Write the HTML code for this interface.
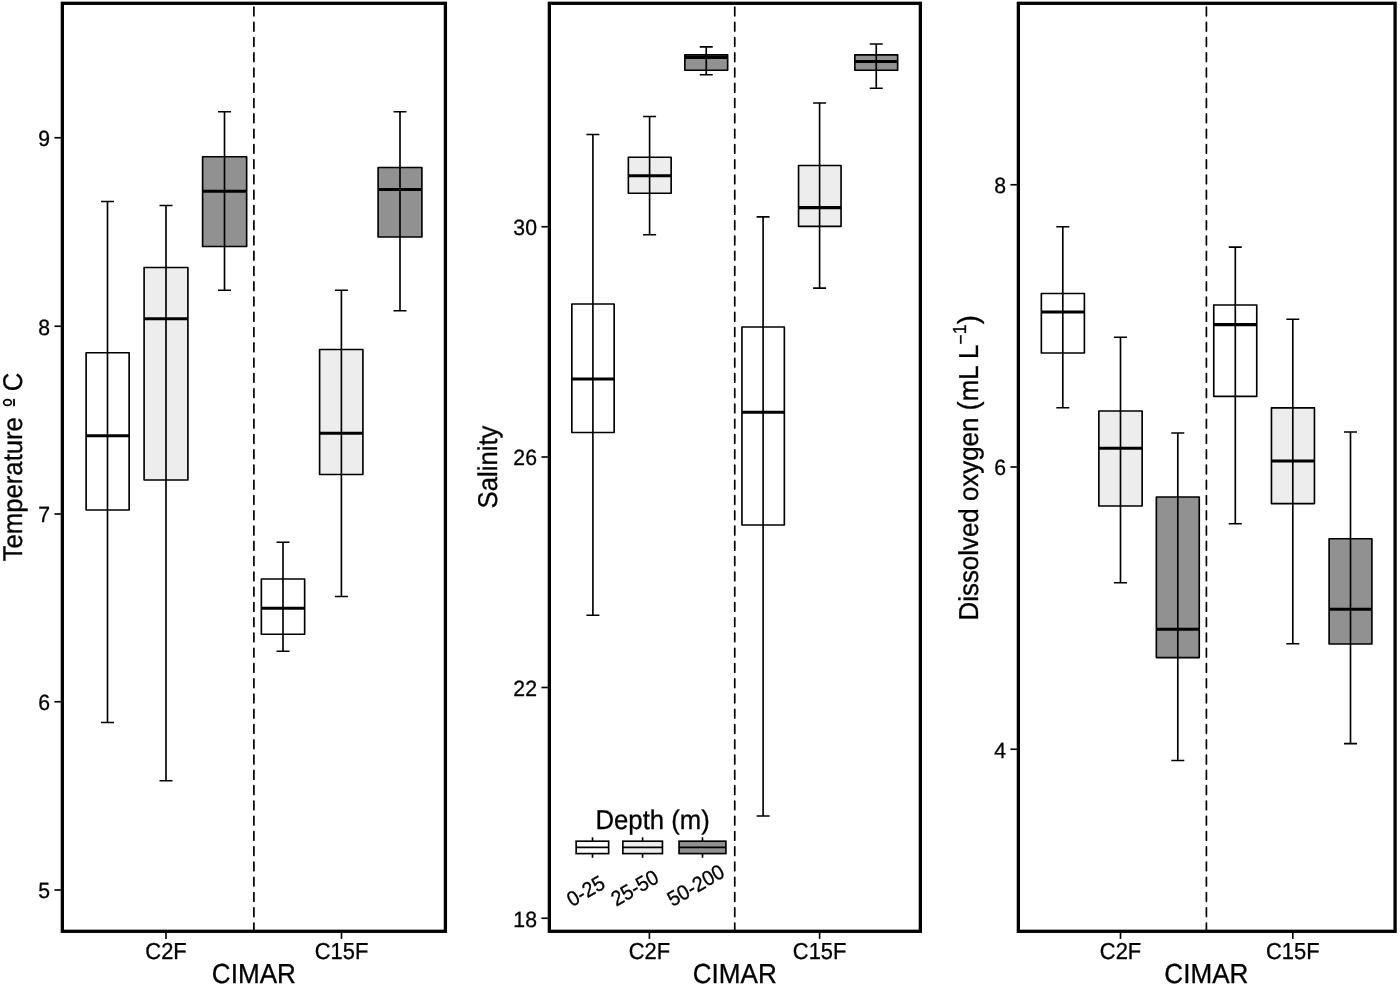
<!DOCTYPE html>
<html><head><meta charset="utf-8"><title>CIMAR boxplots</title>
<style>
html,body{margin:0;padding:0;background:#fff;}
body{width:1400px;height:987px;overflow:hidden;}
svg{display:block;will-change:transform;}
text{font-family:"Liberation Sans",sans-serif;fill:#000;stroke:#000;stroke-width:0.3px;text-rendering:geometricPrecision;}
.t{font-size:21.9px;}
.l{font-size:25.7px;}
.g{font-size:19.9px;}
.y{font-size:21.2px;}
.c{font-size:26.1px;}
</style></head><body>
<svg width="1400" height="987" viewBox="0 0 1400 987">
<rect width="1400" height="987" fill="#fff"/>
<g>
<line x1="253.9" y1="7.1" x2="253.9" y2="930.5" stroke="#000" stroke-width="1.7" stroke-linecap="round" stroke-dasharray="8.7 6.567"/>
<rect x="86.1" y="352.75" width="43.05" height="157.25" fill="#ffffff" stroke="#000" stroke-width="1.65" stroke-linejoin="round"/>
<path d="M107.5 201.5V722.5M101.0 201.5H114.0M101.0 722.5H114.0" stroke="#000" stroke-width="1.65" fill="none"/>
<line x1="86.1" y1="435.75" x2="129.15" y2="435.75" stroke="#000" stroke-width="3.1"/>
<rect x="144.1" y="267.5" width="43.8" height="212.5" fill="#ededed" stroke="#000" stroke-width="1.65" stroke-linejoin="round"/>
<path d="M166.0 205.5V780.75M159.5 205.5H172.5M159.5 780.75H172.5" stroke="#000" stroke-width="1.65" fill="none"/>
<line x1="144.1" y1="318.75" x2="187.9" y2="318.75" stroke="#000" stroke-width="3.1"/>
<rect x="202.6" y="156.75" width="44.05" height="89.75" fill="#919191" stroke="#000" stroke-width="1.65" stroke-linejoin="round"/>
<path d="M224.5 111.75V290.25M218.0 111.75H231.0M218.0 290.25H231.0" stroke="#000" stroke-width="1.65" fill="none"/>
<line x1="202.6" y1="191.25" x2="246.65" y2="191.25" stroke="#000" stroke-width="3.1"/>
<rect x="261.35" y="579.0" width="43.3" height="55.25" fill="#ffffff" stroke="#000" stroke-width="1.65" stroke-linejoin="round"/>
<path d="M283.0 542.25V651.25M276.5 542.25H289.5M276.5 651.25H289.5" stroke="#000" stroke-width="1.65" fill="none"/>
<line x1="261.35" y1="608.25" x2="304.65" y2="608.25" stroke="#000" stroke-width="3.1"/>
<rect x="319.6" y="349.5" width="43.3" height="125.0" fill="#ededed" stroke="#000" stroke-width="1.65" stroke-linejoin="round"/>
<path d="M341.4 290.25V596.5M334.9 290.25H347.9M334.9 596.5H347.9" stroke="#000" stroke-width="1.65" fill="none"/>
<line x1="319.6" y1="433.25" x2="362.9" y2="433.25" stroke="#000" stroke-width="3.1"/>
<rect x="378.1" y="167.5" width="43.8" height="69.5" fill="#919191" stroke="#000" stroke-width="1.65" stroke-linejoin="round"/>
<path d="M400.0 111.75V310.75M393.5 111.75H406.5M393.5 310.75H406.5" stroke="#000" stroke-width="1.65" fill="none"/>
<line x1="378.1" y1="189.5" x2="421.9" y2="189.5" stroke="#000" stroke-width="3.1"/>
<rect x="62.35" y="3.3" width="383.05" height="928.0" fill="none" stroke="#000" stroke-width="3.3"/>
<line x1="54.45" y1="137.75" x2="60.85" y2="137.75" stroke="#000" stroke-width="1.65"/>
<text class="y" transform="translate(49.95 146.15) scale(1 1.04)" text-anchor="end">9</text>
<line x1="54.45" y1="326.25" x2="60.85" y2="326.25" stroke="#000" stroke-width="1.65"/>
<text class="y" transform="translate(49.95 334.65) scale(1 1.04)" text-anchor="end">8</text>
<line x1="54.45" y1="514.0" x2="60.85" y2="514.0" stroke="#000" stroke-width="1.65"/>
<text class="y" transform="translate(49.95 522.4) scale(1 1.04)" text-anchor="end">7</text>
<line x1="54.45" y1="701.75" x2="60.85" y2="701.75" stroke="#000" stroke-width="1.65"/>
<text class="y" transform="translate(49.95 710.15) scale(1 1.04)" text-anchor="end">6</text>
<line x1="54.45" y1="890.0" x2="60.85" y2="890.0" stroke="#000" stroke-width="1.65"/>
<text class="y" transform="translate(49.95 898.4) scale(1 1.04)" text-anchor="end">5</text>
<line x1="166.0" y1="932.8" x2="166.0" y2="938.9" stroke="#000" stroke-width="1.65"/>
<text class="t" transform="translate(166.0 959.2) scale(1 1.055)" text-anchor="middle">C2F</text>
<line x1="341.5" y1="932.8" x2="341.5" y2="938.9" stroke="#000" stroke-width="1.65"/>
<text class="t" transform="translate(341.5 959.2) scale(1 1.055)" text-anchor="middle">C15F</text>
<text class="c" transform="translate(253.9 982.9) scale(1 1.055)" text-anchor="middle">CIMAR</text>
</g>
<g>
<line x1="734.75" y1="7.1" x2="734.75" y2="930.5" stroke="#000" stroke-width="1.7" stroke-linecap="round" stroke-dasharray="8.7 6.567"/>
<rect x="571.85" y="304.0" width="42.3" height="128.5" fill="#ffffff" stroke="#000" stroke-width="1.65" stroke-linejoin="round"/>
<path d="M592.9 134.5V615.25M586.4 134.5H599.4M586.4 615.25H599.4" stroke="#000" stroke-width="1.65" fill="none"/>
<line x1="571.85" y1="379.0" x2="614.15" y2="379.0" stroke="#000" stroke-width="3.1"/>
<rect x="628.35" y="157.25" width="42.8" height="36.0" fill="#ededed" stroke="#000" stroke-width="1.65" stroke-linejoin="round"/>
<path d="M649.6 116.5V234.75M643.1 116.5H656.1M643.1 234.75H656.1" stroke="#000" stroke-width="1.65" fill="none"/>
<line x1="628.35" y1="175.75" x2="671.15" y2="175.75" stroke="#000" stroke-width="3.1"/>
<rect x="684.85" y="54.8" width="42.8" height="15.4" fill="#919191" stroke="#000" stroke-width="1.65" stroke-linejoin="round"/>
<path d="M706.25 46.9V74.7M699.75 46.9H712.75M699.75 74.7H712.75" stroke="#000" stroke-width="1.65" fill="none"/>
<line x1="684.85" y1="57.4" x2="727.65" y2="57.4" stroke="#000" stroke-width="3.1"/>
<rect x="741.95" y="327.0" width="42.4" height="198.0" fill="#ffffff" stroke="#000" stroke-width="1.65" stroke-linejoin="round"/>
<path d="M763.1 216.9V816.0M756.6 216.9H769.6M756.6 816.0H769.6" stroke="#000" stroke-width="1.65" fill="none"/>
<line x1="741.95" y1="412.25" x2="784.35" y2="412.25" stroke="#000" stroke-width="3.1"/>
<rect x="798.55" y="165.5" width="42.5" height="60.8" fill="#ededed" stroke="#000" stroke-width="1.65" stroke-linejoin="round"/>
<path d="M819.6 103.0V288.1M813.1 103.0H826.1M813.1 288.1H826.1" stroke="#000" stroke-width="1.65" fill="none"/>
<line x1="798.55" y1="207.6" x2="841.05" y2="207.6" stroke="#000" stroke-width="3.1"/>
<rect x="854.85" y="54.8" width="42.8" height="15.4" fill="#919191" stroke="#000" stroke-width="1.65" stroke-linejoin="round"/>
<path d="M876.25 44.0V88.25M869.75 44.0H882.75M869.75 88.25H882.75" stroke="#000" stroke-width="1.65" fill="none"/>
<line x1="854.85" y1="61.5" x2="897.65" y2="61.5" stroke="#000" stroke-width="3.1"/>
<rect x="549.35" y="3.3" width="371.0" height="928.0" fill="none" stroke="#000" stroke-width="3.3"/>
<line x1="541.45" y1="226.75" x2="547.85" y2="226.75" stroke="#000" stroke-width="1.65"/>
<text class="y" transform="translate(536.95 235.15) scale(1 1.04)" text-anchor="end">30</text>
<line x1="541.45" y1="457.0" x2="547.85" y2="457.0" stroke="#000" stroke-width="1.65"/>
<text class="y" transform="translate(536.95 465.4) scale(1 1.04)" text-anchor="end">26</text>
<line x1="541.45" y1="687.5" x2="547.85" y2="687.5" stroke="#000" stroke-width="1.65"/>
<text class="y" transform="translate(536.95 695.9) scale(1 1.04)" text-anchor="end">22</text>
<line x1="541.45" y1="918.25" x2="547.85" y2="918.25" stroke="#000" stroke-width="1.65"/>
<text class="y" transform="translate(536.95 926.65) scale(1 1.04)" text-anchor="end">18</text>
<line x1="649.4" y1="932.8" x2="649.4" y2="938.9" stroke="#000" stroke-width="1.65"/>
<text class="t" transform="translate(649.4 959.2) scale(1 1.055)" text-anchor="middle">C2F</text>
<line x1="819.6" y1="932.8" x2="819.6" y2="938.9" stroke="#000" stroke-width="1.65"/>
<text class="t" transform="translate(819.6 959.2) scale(1 1.055)" text-anchor="middle">C15F</text>
<text class="c" transform="translate(734.75 982.9) scale(1 1.055)" text-anchor="middle">CIMAR</text>
</g>
<g>
<line x1="1206.4" y1="7.1" x2="1206.4" y2="930.5" stroke="#000" stroke-width="1.7" stroke-linecap="round" stroke-dasharray="8.7 6.567"/>
<rect x="1041.35" y="293.5" width="43.05" height="59.5" fill="#ffffff" stroke="#000" stroke-width="1.65" stroke-linejoin="round"/>
<path d="M1062.8 226.75V407.75M1056.3 226.75H1069.3M1056.3 407.75H1069.3" stroke="#000" stroke-width="1.65" fill="none"/>
<line x1="1041.35" y1="312.0" x2="1084.4" y2="312.0" stroke="#000" stroke-width="3.1"/>
<rect x="1098.85" y="411.0" width="43.3" height="95.0" fill="#ededed" stroke="#000" stroke-width="1.65" stroke-linejoin="round"/>
<path d="M1120.5 337.25V582.75M1114.0 337.25H1127.0M1114.0 582.75H1127.0" stroke="#000" stroke-width="1.65" fill="none"/>
<line x1="1098.85" y1="448.25" x2="1142.15" y2="448.25" stroke="#000" stroke-width="3.1"/>
<rect x="1156.35" y="497.0" width="42.9" height="160.6" fill="#919191" stroke="#000" stroke-width="1.65" stroke-linejoin="round"/>
<path d="M1177.8 433.0V760.5M1171.3 433.0H1184.3M1171.3 760.5H1184.3" stroke="#000" stroke-width="1.65" fill="none"/>
<line x1="1156.35" y1="629.25" x2="1199.25" y2="629.25" stroke="#000" stroke-width="3.1"/>
<rect x="1213.75" y="305.0" width="43.0" height="91.3" fill="#ffffff" stroke="#000" stroke-width="1.65" stroke-linejoin="round"/>
<path d="M1235.3 247.1V523.7M1228.8 247.1H1241.8M1228.8 523.7H1241.8" stroke="#000" stroke-width="1.65" fill="none"/>
<line x1="1213.75" y1="324.6" x2="1256.75" y2="324.6" stroke="#000" stroke-width="3.1"/>
<rect x="1271.45" y="407.9" width="43.0" height="95.7" fill="#ededed" stroke="#000" stroke-width="1.65" stroke-linejoin="round"/>
<path d="M1292.8 319.25V643.75M1286.3 319.25H1299.3M1286.3 643.75H1299.3" stroke="#000" stroke-width="1.65" fill="none"/>
<line x1="1271.45" y1="461.0" x2="1314.45" y2="461.0" stroke="#000" stroke-width="3.1"/>
<rect x="1329.1" y="538.75" width="42.8" height="105.25" fill="#919191" stroke="#000" stroke-width="1.65" stroke-linejoin="round"/>
<path d="M1350.5 432.0V743.6M1344.0 432.0H1357.0M1344.0 743.6H1357.0" stroke="#000" stroke-width="1.65" fill="none"/>
<line x1="1329.1" y1="609.25" x2="1371.9" y2="609.25" stroke="#000" stroke-width="3.1"/>
<rect x="1018.35" y="3.3" width="376.75" height="928.0" fill="none" stroke="#000" stroke-width="3.3"/>
<line x1="1010.45" y1="184.75" x2="1016.85" y2="184.75" stroke="#000" stroke-width="1.65"/>
<text class="y" transform="translate(1005.95 193.15) scale(1 1.04)" text-anchor="end">8</text>
<line x1="1010.45" y1="467.0" x2="1016.85" y2="467.0" stroke="#000" stroke-width="1.65"/>
<text class="y" transform="translate(1005.95 475.4) scale(1 1.04)" text-anchor="end">6</text>
<line x1="1010.45" y1="749.25" x2="1016.85" y2="749.25" stroke="#000" stroke-width="1.65"/>
<text class="y" transform="translate(1005.95 757.65) scale(1 1.04)" text-anchor="end">4</text>
<line x1="1120.5" y1="932.8" x2="1120.5" y2="938.9" stroke="#000" stroke-width="1.65"/>
<text class="t" transform="translate(1120.5 959.2) scale(1 1.055)" text-anchor="middle">C2F</text>
<line x1="1292.8" y1="932.8" x2="1292.8" y2="938.9" stroke="#000" stroke-width="1.65"/>
<text class="t" transform="translate(1292.8 959.2) scale(1 1.055)" text-anchor="middle">C15F</text>
<text class="c" transform="translate(1206.4 982.9) scale(1 1.055)" text-anchor="middle">CIMAR</text>
</g>
<text class="l" transform="translate(22.4 561.3) rotate(-90) scale(1 1.055)" text-anchor="start">Temperature</text>
<text class="l" transform="translate(22.4 391.3) rotate(-90) scale(1 1.055)" text-anchor="start">C</text>
<ellipse cx="7.5" cy="402.55" rx="3.85" ry="2.85" fill="none" stroke="#000" stroke-width="1.65"/>
<rect x="13.1" y="398.9" width="1.8" height="7.3" fill="#000"/>
<text class="l" transform="translate(497.0 467.0) rotate(-90) scale(1 1.055)" text-anchor="middle">Salinity</text>
<text class="l" style="font-size:25.9px" transform="translate(978.2 620.5) rotate(-90) scale(1 1.055)" text-anchor="start">Dissolved oxygen <tspan font-size="27.4" dy="-0.57">(</tspan><tspan dy="0.57">mL L</tspan><tspan font-size="17.9" dy="-10.9">−</tspan><tspan font-size="17.9" dy="-1.14">1</tspan><tspan font-size="27.4" dy="11.47">)</tspan></text>
<text class="l" transform="translate(652.6 829.0) scale(1 1.055)" text-anchor="middle">Depth (m)</text>
<line x1="592.5" y1="837.3" x2="592.5" y2="857.8" stroke="#000" stroke-width="1.65"/>
<rect x="576.15" y="841.2" width="32.5" height="12.4" fill="#ffffff" stroke="#000" stroke-width="1.65"/>
<line x1="576.15" y1="847.4" x2="608.65" y2="847.4" stroke="#000" stroke-width="1.65"/>
<line x1="642.6" y1="837.3" x2="642.6" y2="857.8" stroke="#000" stroke-width="1.65"/>
<rect x="622.85" y="841.2" width="39.6" height="12.4" fill="#ededed" stroke="#000" stroke-width="1.65"/>
<line x1="622.85" y1="847.4" x2="662.45" y2="847.4" stroke="#000" stroke-width="1.65"/>
<line x1="702.5" y1="837.3" x2="702.5" y2="857.8" stroke="#000" stroke-width="1.65"/>
<rect x="679.05" y="841.2" width="46.85" height="12.4" fill="#919191" stroke="#000" stroke-width="1.65"/>
<line x1="679.05" y1="847.4" x2="725.9" y2="847.4" stroke="#000" stroke-width="1.65"/>
<text class="g" transform="translate(572.0 907.2) rotate(-30) scale(1 1.055)" text-anchor="start">0-25</text>
<text class="g" transform="translate(616.2 906.8) rotate(-30) scale(1 1.055)" text-anchor="start">25-50</text>
<text class="g" transform="translate(672.5 907.0) rotate(-30) scale(1 1.055)" text-anchor="start">50-200</text>
</svg>
</body></html>
